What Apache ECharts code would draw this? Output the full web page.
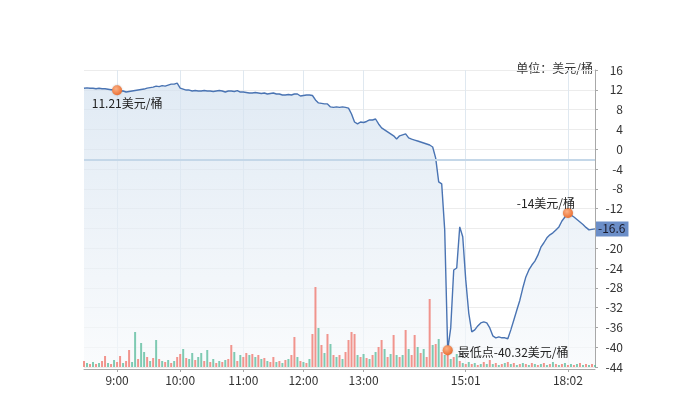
<!DOCTYPE html>
<html><head><meta charset="utf-8">
<script src="https://cdn.jsdelivr.net/npm/echarts@6/dist/echarts.min.js"></script>
<style>html,body{margin:0;padding:0;background:#fff}#c{width:695px;height:393px}</style>
</head><body><div id="c"></div>
<script>
// ---- data ----
const prices = [
 12.3,12.4,12.3,12.3,12.2,12.3,12.2,12.2,12.1,12.0,
 12.0,11.9,11.75,11.75,11.55,11.65,11.75,11.85,11.95,12.05,
 12.15,12.35,12.45,12.55,12.75,12.65,12.85,12.75,12.95,13.15,
 13.15,13.35,12.35,12.15,11.95,11.95,11.75,11.85,11.75,11.75,
 11.85,11.75,11.75,11.65,11.75,11.85,11.75,11.55,11.75,11.75,
 11.65,11.85,11.55,11.55,11.45,11.35,11.35,11.45,11.35,11.25,
 11.35,11.15,11.25,11.35,11.15,11.15,10.95,10.95,11.05,10.95,
 11.15,11.15,10.75,10.85,10.95,10.95,10.85,9.95,9.35,9.25,
 9.15,9.15,8.55,8.45,8.55,8.45,8.55,8.45,8.3,7.1,
 5.5,5.1,5.5,5.4,5.6,5.9,5.9,6.1,5.1,4.3,
 3.9,3.5,3.1,2.7,2.05,2.7,2.9,3.1,2.3,2.05,
 1.85,1.65,1.45,1.25,1.05,0.85,0.45,-1.8,-6.6,-7.0,
 -16.3,-40.6,-36.1,-24.4,-24.0,-15.7,-17.7,-26.4,-33.1,-36.9,
 -36.5,-35.7,-35.1,-34.9,-35.1,-36.1,-37.7,-38.1,-37.9,-38.1,
 -38.1,-38.3,-36.5,-34.5,-32.5,-30.5,-28.0,-25.8,-24.4,-23.4,
 -22.6,-21.4,-19.8,-18.9,-17.9,-17.3,-16.9,-16.3,-15.7,-14.5,
 -13.7,-12.9,-13.3,-13.7,-14.2,-14.7,-15.2,-15.8,-16.3,-16.2,
 -16.1
];
const volumes = [
 6,4,3,5,3,4,6,11,4,3,
 7,5,11,4,6,17,5,35,8,24,
 15,10,6,9,27,8,6,5,7,4,
 6,10,13,18,9,8,14,7,10,14,
 6,17,5,8,4,6,5,7,8,22,
 15,6,12,10,14,12,13,10,12,8,
 9,6,5,10,5,6,4,7,8,12,
 30,10,6,5,4,8,33,80,39,22,
 14,33,23,12,10,12,8,15,27,35,
 33,12,10,13,9,8,12,15,20,27,
 18,10,13,32,12,10,12,37,18,12,
 32,20,14,18,10,68,22,23,28,15,
 12,14,8,10,13,6,4,3,5,3,
 4,2,3,5,3,7,3,4,2,3,
 4,5,3,4,2,3,4,3,2,4,
 3,2,3,4,2,3,5,3,2,3,
 4,2,3,2,3,4,2,3,2,3,
 2
];
const volDir =
 "rgrgrgrrgr"+"grrgrrggrg"+"grgrgrgrgr"+"grrgrggrgg"+"rgrgrgrgrr"+
 "grgrrgrgrg"+"rgrrgrgrgr"+"rgrgrgrrgr"+"grgrgrgrrr"+"rgrgrgrgrr"+
 "grgrgrgrgr"+"rgrgrrgrgr"+"grgrgrgrgr"+"grgrgrgrgr"+"grgrgrgrgr"+
 "grgrgrgrgr"+"grgrgrgrgr"+"g";
const tickLabels = ['9:00','10:00','11:00','12:00','13:00','15:01','18:02'];
const tickIndex  = [11, 32, 53, 73, 93, 127, 161];
const startTime = '8:27', endTime = '18:49';
const refLine = [-2.1];
const annotations = [
  {i: 11,  text: '11.21美元/桶'},
  {i: 121, text: '最低点-40.32美元/桶'},
  {i: 161, text: '-14美元/桶'}
];
const lastLabel = '-16.6';
const unitText = '单位：美元/桶';
const yMin = -44, yMax = 16, yInterval = 4;

// ---- build category times (labels) ----
function toMin(s){const p=s.split(':');return +p[0]*60+ +p[1];}
function fmt(m){m=Math.round(m);return Math.floor(m/60)+':'+String(m%60).padStart(2,'0');}
const anchors = [[0,toMin(startTime)]].concat(tickIndex.map((k,j)=>[k,toMin(tickLabels[j])])).concat([[prices.length-1,toMin(endTime)]]);
const categories = prices.map((_,i)=>{
  for(let a=0;a<anchors.length-1;a++){
    const [i0,m0]=anchors[a],[i1,m1]=anchors[a+1];
    if(i>=i0&&i<=i1){return fmt(m0+(m1-m0)*(i-i0)/(i1-i0));}
  }
});
const isTick = (idx)=>tickIndex.indexOf(idx)>=0;

// ---- styles ----
const FONT = '"Noto Sans CJK SC","Noto Sans",sans-serif';
const labelStyles = [
  {position:'inside', offset:[10,13]},
  {position:'right', distance:5, offset:[0,2]},
  {position:'inside', offset:[-22,-10]}
];
const markerColor = new echarts.graphic.RadialGradient(0.4,0.35,0.7,[
  {offset:0,color:'#fbb287'},{offset:1,color:'#ea6a2c'}]);

const chart = echarts.init(document.getElementById('c'), null, {renderer:'canvas'});
chart.setOption({
  animation:false,
  textStyle:{fontFamily:FONT},
  grid:{left:84, right:100, top:70, bottom:26},
  graphic:[{type:'text', right:102, top:62, style:{text:unitText, fill:'#333', font:'12px '+FONT}}],
  xAxis:{
    type:'category', data:categories, boundaryGap:false, offset:2,
    axisLine:{onZero:false, lineStyle:{color:'#a8a8a8'}},
    axisTick:{show:true, interval:isTick, length:3, lineStyle:{color:'#a8a8a8'}},
    axisLabel:{interval:isTick, color:'#333', fontSize:12, margin:5, fontFamily:FONT},
    splitLine:{show:true, interval:isTick, lineStyle:{color:'#dfe8f0'}}
  },
  yAxis:[{
    type:'value', position:'right', min:yMin, max:yMax, interval:yInterval,
    axisLine:{show:true, lineStyle:{color:'#a8a8a8'}},
    axisTick:{show:true, length:3, lineStyle:{color:'#a8a8a8'}},
    axisLabel:{align:'right', margin:28, color:'#333', fontSize:12, fontFamily:FONT},
    splitLine:{show:true, lineStyle:{color:'#ececec'}}
  },{
    type:'value', min:0, max:297, show:false, splitLine:{show:false}
  }],
  series:[{
    type:'line', data:prices, symbol:'none', z:2,
    lineStyle:{color:'#4a74b3', width:1.4},
    areaStyle:{origin:'start', color:new echarts.graphic.LinearGradient(0,0,0,1,[
      {offset:0,color:'#d3e1ef'},{offset:1,color:'#f7f9fb'}])},
    markLine:{
      silent:true, symbol:'none', label:{show:false},
      lineStyle:{color:'#c4d7e8', width:2, type:'solid'},
      data: refLine.map(v=>({yAxis:v}))
    },
    markPoint:{
      z:6,
      data: annotations.map((a,j)=>({
        coord:[a.i, prices[a.i]], symbol:'circle', symbolSize:10,
        itemStyle:{color:markerColor, shadowColor:'rgba(0,0,0,0.25)', shadowBlur:2},
        label:Object.assign({show:true, formatter:a.text, color:'#222', fontSize:12, fontFamily:FONT}, labelStyles[j])
      })).concat([{
        coord:[prices.length-1, prices[prices.length-1]], symbol:'circle', symbolSize:0,
        label:{show:true, position:'right', distance:1, formatter:lastLabel, color:'#1a1a2a', fontSize:12,
          fontFamily:FONT, backgroundColor:'#6b8ec8', padding:[2,3,1,2]}
      }])
    }
  },{
    type:'bar', yAxisIndex:1, barWidth:2, barGap:'0%', z:4,
    data: volumes.map((v,i)=>({value:v, itemStyle:{color: volDir[i]==='r' ? 'rgba(240,130,122,0.85)' : 'rgba(96,190,160,0.8)'}}))
  }]
});
</script></body></html>
